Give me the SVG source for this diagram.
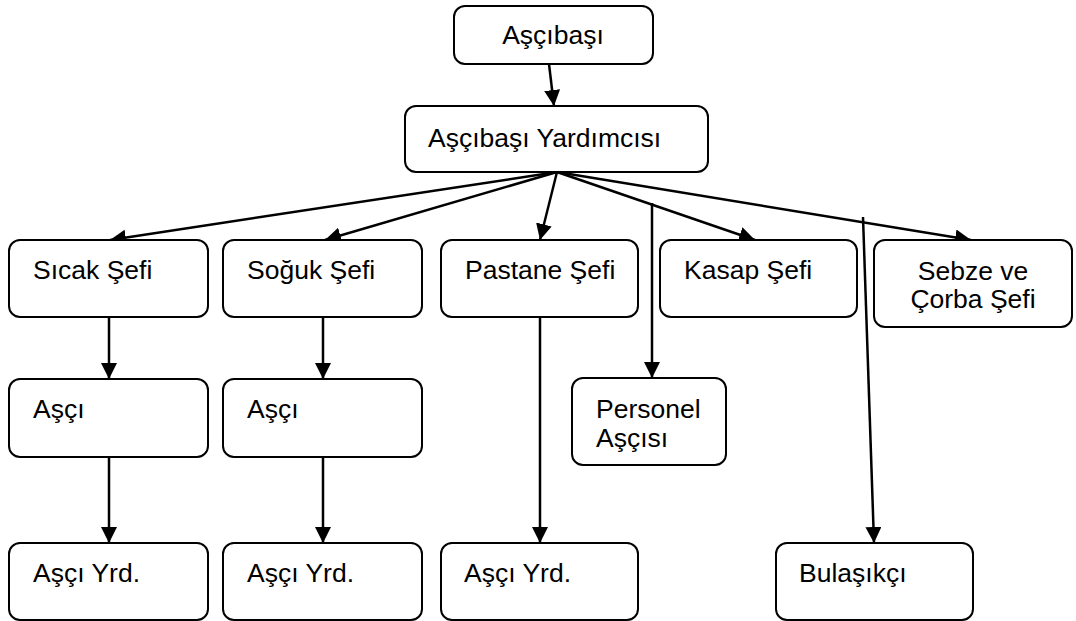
<svg xmlns="http://www.w3.org/2000/svg" width="1076" height="621" viewBox="0 0 1076 621">
  <defs>
    <marker id="arrow" markerUnits="userSpaceOnUse" markerWidth="18" markerHeight="18" refX="16" refY="8" orient="auto">
      <path d="M0,0 L16,8 L0,16 z" fill="#000"/>
    </marker>
    <style>
      .box { fill: #fff; stroke: #000; stroke-width: 2; }
      .lbl { font-family: "Liberation Sans", Arial, sans-serif; font-size: 26.5px; fill: #000; }
      .mid { text-anchor: middle; }
      .edge { stroke: #000; stroke-width: 2.5; fill: none; }
      .arr { marker-end: url(#arrow); }
    </style>
  </defs>
  <rect width="1076" height="621" fill="#fff"/>

  <!-- connectors -->
  <g id="connectors">
    <line class="edge arr" x1="549" y1="64" x2="554" y2="106"/>
    <line class="edge arr" x1="557" y1="172" x2="110" y2="240"/>
    <line class="edge arr" x1="557" y1="172" x2="325" y2="240"/>
    <line class="edge arr" x1="557" y1="172" x2="540" y2="240"/>
    <line class="edge arr" x1="557" y1="172" x2="755" y2="240"/>
    <line class="edge arr" x1="557" y1="172" x2="971" y2="240"/>
    <line class="edge arr" x1="109" y1="317" x2="109" y2="379"/>
    <line class="edge arr" x1="109" y1="457" x2="109" y2="543"/>
    <line class="edge arr" x1="323" y1="317" x2="323" y2="379"/>
    <line class="edge arr" x1="323" y1="457" x2="323" y2="543"/>
    <line class="edge arr" x1="540" y1="317" x2="540" y2="543"/>
    <line class="edge arr" x1="652" y1="203" x2="652" y2="378"/>
    <line class="edge arr" x1="863" y1="217" x2="874" y2="543"/>
  </g>

  <g id="ascibasi">
    <rect class="box" x="454" y="6" width="199" height="58" rx="11"/>
    <text class="lbl mid" x="553" y="44">Aşçıbaşı</text>
  </g>
  <g id="ascibasi-yardimcisi">
    <rect class="box" x="405" y="106" width="303" height="66" rx="11"/>
    <text class="lbl" x="428" y="147">Aşçıbaşı Yardımcısı</text>
  </g>

  <g id="sicak-sefi">
    <rect class="box" x="9" y="240" width="199" height="77" rx="11"/>
    <text class="lbl" x="33" y="279">Sıcak Şefi</text>
  </g>
  <g id="soguk-sefi">
    <rect class="box" x="223" y="240" width="199" height="77" rx="11"/>
    <text class="lbl" x="247" y="279">Soğuk Şefi</text>
  </g>
  <g id="pastane-sefi">
    <rect class="box" x="441" y="240" width="197" height="77" rx="11"/>
    <text class="lbl" x="465" y="279">Pastane Şefi</text>
  </g>
  <g id="kasap-sefi">
    <rect class="box" x="660" y="240" width="197" height="77" rx="11"/>
    <text class="lbl" x="684" y="279">Kasap Şefi</text>
  </g>
  <g id="sebze-corba-sefi">
    <rect class="box" x="874" y="240" width="198" height="87" rx="11"/>
    <text class="lbl mid" x="973" y="280">Sebze ve</text>
    <text class="lbl mid" x="973" y="308">Çorba Şefi</text>
  </g>

  <g id="asci-1">
    <rect class="box" x="9" y="379" width="199" height="78" rx="11"/>
    <text class="lbl" x="33" y="418">Aşçı</text>
  </g>
  <g id="asci-2">
    <rect class="box" x="223" y="379" width="199" height="78" rx="11"/>
    <text class="lbl" x="247" y="418">Aşçı</text>
  </g>
  <g id="personel-ascisi">
    <rect class="box" x="572" y="378" width="154" height="87" rx="11"/>
    <text class="lbl" x="596" y="418">Personel</text>
    <text class="lbl" x="596" y="447">Aşçısı</text>
  </g>

  <g id="asci-yrd-1">
    <rect class="box" x="9" y="543" width="199" height="77" rx="11"/>
    <text class="lbl" x="33" y="582">Aşçı Yrd.</text>
  </g>
  <g id="asci-yrd-2">
    <rect class="box" x="223" y="543" width="199" height="77" rx="11"/>
    <text class="lbl" x="247" y="582">Aşçı Yrd.</text>
  </g>
  <g id="asci-yrd-3">
    <rect class="box" x="441" y="543" width="197" height="77" rx="11"/>
    <text class="lbl" x="464" y="582">Aşçı Yrd.</text>
  </g>
  <g id="bulasikci">
    <rect class="box" x="776" y="543" width="197" height="77" rx="11"/>
    <text class="lbl" x="799" y="582">Bulaşıkçı</text>
  </g>
</svg>
